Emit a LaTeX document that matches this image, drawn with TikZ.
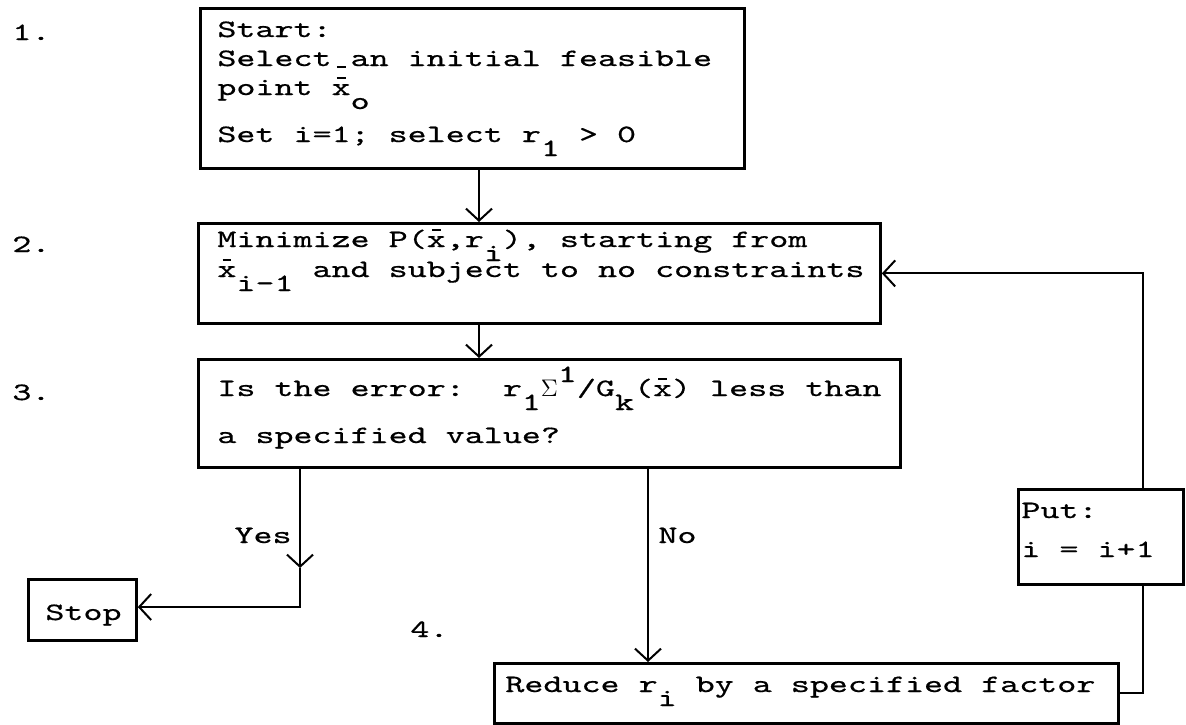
\documentclass[tikz,border=0pt]{standalone}
\usepackage{fontspec}
\newfontfamily\tw{lmmono10-regular.otf}[FakeStretch=1.45,FakeBold=0.6]
\usetikzlibrary{arrows.meta}
\newcommand\xb{\leavevmode\rlap{\hspace{2.6pt}\rule[8pt]{4.4pt}{1pt}}x}
\newcommand\dn[2][7pt]{\raisebox{-#1}{#2}}
\newcommand\up[1]{\raisebox{7pt}{#1}}
\newcommand\usc{\rlap{\hspace{2.6pt}\rule[-1.2pt]{4.4pt}{1pt}}}
\tikzset{
  frame/.style={draw, line width=1.4pt, inner sep=0pt, anchor=north west},
  txt/.style={anchor=base west, inner sep=0pt, font=\tw\fontsize{12.5}{15}\selectfont},
  conn/.style={line width=1pt},
  arr/.style={conn, -{Straight Barb[length=6pt,width=13pt,line width=1pt]}}
}
\begin{document}
\begin{tikzpicture}[x=0.5pt,y=-0.5pt]
\useasboundingbox[fill=white] (0,0) rectangle (1186,724);
% frames
\node[frame, minimum width=272pt, minimum height=80pt] (b1) at (199,7) {};
\node[frame, minimum width=341pt, minimum height=50pt] (b2) at (197,222) {};
\node[frame, minimum width=351pt, minimum height=54pt] (b3) at (197,358) {};
\node[frame, minimum width=54pt, minimum height=30.5pt] (stop) at (27,578) {};
\node[frame, minimum width=82.5pt, minimum height=47.5pt] (put) at (1017,488) {};
\node[frame, minimum width=312pt, minimum height=30pt] (red) at (493,662) {};
% step numbers
\node[txt] (n1) at (12,40) {1.};
\node[txt] (n2) at (12,252) {2.};
\node[txt] (n3) at (12,400) {3.};
\node[txt] (n4) at (410,637) {4.};
% texts
\node[txt] (t1a) at (217,37) {Start:};
\node[txt] (t1b) at (217,66) {Select\usc{} an initial feasible};
\node[txt] (t1c) at (217,95) {point \xb\dn{o}};
\node[txt] (t1d) at (217,142) {Set i=1; select r\dn{1} > 0};
\node[txt] (t2a) at (217,247) {Minimize P(\xb,r\dn{i}), starting from};
\node[txt] (t2b) at (217,277) {\xb\dn{i-1} and subject to no constraints};
\node[txt] (t3a) at (217,396) {Is the error:\ \ r\dn{1}$\Sigma$\up{1}/G\dn{k}(\xb) less than};
\node[txt] (t3b) at (217,443) {a specified value?};
\node[txt] (ts) at (45,620) {Stop};
\node[txt] (tp1) at (1021,518) {Put:};
\node[txt] (tp2) at (1021,557) {i = i+1};
\node[txt] (tr) at (505,692) {Reduce r\dn{i} by a specified factor};
\node[txt, anchor=base east] (yes) at (292,543) {Yes};
\node[txt] (no) at (658,543) {No};
% connectors
\coordinate (cA) at (479,0);
\draw[arr] (cA |- b1.south) -- (cA |- b2.north);
\draw[arr] (cA |- b2.south) -- (cA |- b3.north);
\coordinate (ymid) at (300,568);
\coordinate (ycor) at (300,607);
\draw[arr] (ycor |- b3.south) -- (ymid);
\draw[arr] (ymid) -- (ycor) -- (ycor -| stop.east);
\coordinate (nx) at (648,0);
\draw[arr] (nx |- b3.south) -- (nx |- red.north);
\coordinate (lx) at (1143,0);
\draw[conn] (red.east) -- (red.east -| lx) -- (lx |- put.south);
\draw[arr] (lx |- put.north) -- (lx |- b2.east) -- (b2.east);
\end{tikzpicture}
\end{document}
